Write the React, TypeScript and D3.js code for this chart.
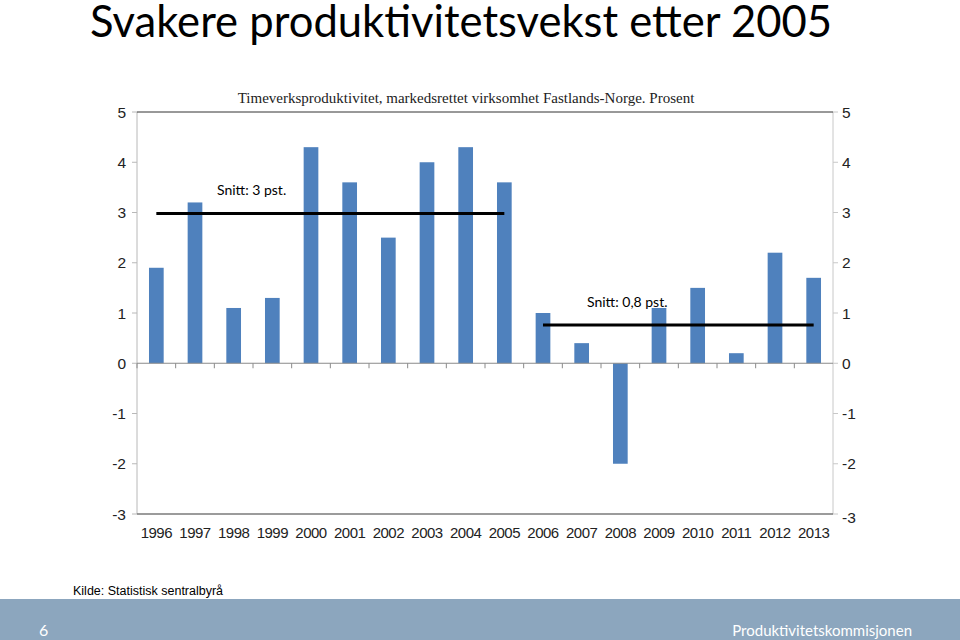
import { scaleBand, scaleLinear } from "d3";

// data
const years = [
  "1996", "1997", "1998", "1999", "2000", "2001", "2002", "2003", "2004",
  "2005", "2006", "2007", "2008", "2009", "2010", "2011", "2012", "2013",
];
const growth = [1.9, 3.2, 1.1, 1.3, 4.3, 3.6, 2.5, 4.0, 4.3, 3.6, 1.0, 0.4, -2.0, 1.1, 1.5, 0.2, 2.2, 1.7];
const yTicks = [5, 4, 3, 2, 1, 0, -1, -2, -3];
const averages = [
  { from: "1996", to: "2005", value: 2.98, label: "Snitt: 3 pst." },
  { from: "2006", to: "2013", value: 0.76, label: "Snitt: 0,8 pst." },
];

const W = 960;
const H = 640;
const left = 137;
const right = 833;
const top = 112;
const bottom = 514;

const App = () => {
  const x = scaleBand<string>().domain(years).range([left, right]).paddingInner(0.62).paddingOuter(0.31);
  const y = scaleLinear().domain([-3, 5]).range([bottom, top]);
  const cx = (yr: string) => (x(yr) ?? 0) + x.bandwidth() / 2;
  const step = x.step();
  const labelPos = [
    { x: 217, y: 195 },
    { x: 587, y: 307 },
  ];

  return (
    <svg width={W} height={H} style={{ position: "absolute", left: 0, top: 0, background: "#fff" }}>
      {/* title */}
      <text x={90} y={37} fontFamily="Lato, 'Open Sans', sans-serif" fontSize={44} textLength={742} lengthAdjust="spacingAndGlyphs" fill="#000">
        Svakere produktivitetsvekst etter 2005
      </text>

      <text x={466} y={103} textAnchor="middle" fontFamily="'Liberation Serif', 'DejaVu Serif', serif" fontSize={15} fill="#222">
        Timeverksproduktivitet, markedsrettet virksomhet Fastlands-Norge. Prosent
      </text>

      {/* frame */}
      <line x1={left} x2={left} y1={top} y2={bottom} stroke="#b8b8b8" />
      <line x1={right} x2={right} y1={top} y2={bottom} stroke="#c8c8c8" />
      <line x1={left} x2={right} y1={top} y2={top} stroke="#333" />
      <line x1={left} x2={right} y1={bottom} y2={bottom} stroke="#7a7a7a" strokeWidth={1.5} />

      {/* y ticks and labels */}
      {yTicks.map((t) => (
        <g key={t}>
          <line x1={left - 5} x2={left} y1={y(t)} y2={y(t)} stroke="#b8b8b8" />
          <line x1={right} x2={right + 5} y1={y(t)} y2={y(t)} stroke="#c8c8c8" />
          <text x={126} y={y(t)} dy="0.36em" textAnchor="end" fontFamily="'Liberation Sans', Arial, sans-serif" fontSize={15.5} fill="#222">
            {t}
          </text>
          <text x={842} y={t === -3 ? y(t) + 3 : y(t)} dy="0.36em" fontFamily="'Liberation Sans', Arial, sans-serif" fontSize={15.5} fill="#222">
            {t}
          </text>
        </g>
      ))}

      {/* bars */}
      {years.map((yr, i) => (
        <rect
          key={yr}
          x={x(yr)}
          width={x.bandwidth()}
          y={y(Math.max(0, growth[i]))}
          height={Math.abs(y(growth[i]) - y(0))}
          fill="#4f81bd"
        />
      ))}

      {/* zero axis with category ticks */}
      <line x1={left} x2={right} y1={y(0)} y2={y(0)} stroke="#8a8a8a" />
      {years.map((yr) => (
        <line key={yr} x1={(x(yr) ?? 0) - x.paddingOuter() * step} x2={(x(yr) ?? 0) - x.paddingOuter() * step} y1={y(0)} y2={y(0) + 5} stroke="#8a8a8a" />
      ))}

      {/* year labels */}
      {years.map((yr) => (
        <text key={yr} x={cx(yr)} y={538} textAnchor="middle" fontFamily="'Liberation Sans', Arial, sans-serif" fontSize={15} letterSpacing={-0.5} fill="#222">
          {yr}
        </text>
      ))}

      {/* averages */}
      {averages.map((a, i) => (
        <g key={a.label}>
          <line x1={cx(a.from)} x2={cx(a.to)} y1={y(a.value)} y2={y(a.value)} stroke="#000" strokeWidth={3} />
          <text x={labelPos[i].x} y={labelPos[i].y} fontFamily="Lato, 'Open Sans', sans-serif" fontSize={14} fill="#000">
            {a.label}
          </text>
        </g>
      ))}

      {/* footer */}
      <text x={73} y={595} fontFamily="'Liberation Sans Narrow', 'Liberation Sans', Arial, sans-serif" fontSize={12.5} fill="#000">
        Kilde: Statistisk sentralbyrå
      </text>
      <rect x={0} y={599} width={W} height={H - 599} fill="#8ca6be" />
      <text x={39} y={636} fontFamily="Lato, 'Open Sans', sans-serif" fontSize={16} fill="#fff">
        6
      </text>
      <text x={912} y={636} textAnchor="end" fontFamily="Lato, 'Open Sans', sans-serif" fontSize={15} fill="#fff">
        Produktivitetskommisjonen
      </text>
    </svg>
  );
};

export default App;
